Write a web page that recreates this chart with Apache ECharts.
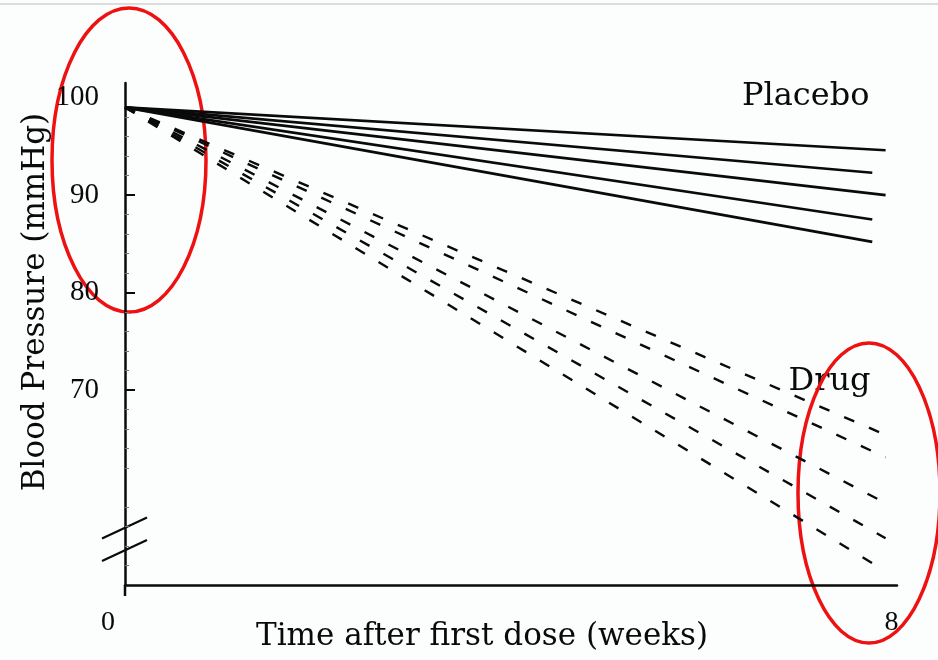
<!DOCTYPE html>
<html>
<head>
<meta charset="utf-8">
<script src="https://cdn.jsdelivr.net/npm/echarts@6/dist/echarts.min.js"></script>
<style>
  html, body { margin: 0; padding: 0; background: #fcfefe; }
  #chart { width: 938px; height: 660px; }
</style>
</head>
<body>
<div id="chart"></div>
<script>
// Weeks after first dose at which each line is drawn (start, end)
const weeksStart = 0;
const weeksEnd = 8;

// Blood pressure at baseline (mmHg)
const baseline = 99;

// Placebo group: end-of-study value for each line, with its end week
const placeboEndWeeks = [8, 7.86, 8, 7.86, 7.86];
const placeboEndValues = [94.6, 92.3, 90.0, 87.5, 85.2];

// Drug group: end-of-study value for each line
const drugEndValues = [65.4, 63.1, 58.4, 54.8, 51.4];

// Labelled ticks
const yTickLabels = [70, 80, 90, 100];
const xTickLabels = [0, 8];

const SERIF = '"DejaVu Serif", "Liberation Serif", serif';
const DIGITS = '"Liberation Serif", "DejaVu Serif", serif';

const series = [];
placeboEndValues.forEach((v, i) => {
  series.push({
    name: 'Placebo ' + (i + 1),
    type: 'line',
    data: [[weeksStart, baseline], [placeboEndWeeks[i], v]],
    symbol: 'none',
    lineStyle: { color: '#0a0a0a', width: 2.6, type: 'solid' },
    silent: true
  });
});
drugEndValues.forEach((v, i) => {
  series.push({
    name: 'Drug ' + (i + 1),
    type: 'line',
    data: [[weeksStart, baseline], [weeksEnd, v]],
    symbol: 'none',
    lineStyle: { color: '#0a0a0a', width: 2.4, type: [11, 16] },
    silent: true
  });
});

const chart = echarts.init(document.getElementById('chart'), null, { renderer: 'canvas' });

chart.setOption({
  animation: false,
  backgroundColor: '#fcfefe',
  grid: {
    left: 125, top: 83, width: 772, height: 502,
    containLabel: false, outerBoundsMode: 'none'
  },
  xAxis: {
    type: 'value',
    min: 0,
    max: 8.12,
    name: 'Time after first dose (weeks)',
    nameLocation: 'middle',
    nameMoveOverlap: false,
    nameGap: 36,
    nameTextStyle: {
      fontFamily: SERIF, fontSize: 31, color: '#0a0a0a',
      padding: [0, 58, 0, 0]
    },
    splitLine: { show: false },
    axisLine: { lineStyle: { color: '#0a0a0a', width: 2.5 } },
    axisTick: { show: false },
    axisLabel: {
      customValues: xTickLabels,
      margin: 24,
      formatter: v => (v === 0 ? '{l|0}' : '{r|8}'),
      rich: {
        l: { fontFamily: DIGITS, fontSize: 28, color: '#0a0a0a', padding: [0, 34, 0, 0] },
        r: { fontFamily: DIGITS, fontSize: 28, color: '#0a0a0a', padding: [0, 0, 0, 12] }
      }
    }
  },
  yAxis: {
    type: 'value',
    min: 50,
    max: 101.5,
    name: 'Blood Pressure (mmHg)',
    nameLocation: 'middle',
    nameMoveOverlap: false,
    nameGap: 74,
    nameRotate: 90,
    nameTextStyle: {
      fontFamily: SERIF, fontSize: 31, color: '#0a0a0a',
      padding: [0, 0, 0, 64]
    },
    splitLine: { show: false },
    axisLine: { lineStyle: { color: '#0a0a0a', width: 2.5 } },
    axisTick: {
      inside: true,
      length: 10,
      customValues: [70, 80, 90],
      lineStyle: { color: '#0a0a0a', width: 2 }
    },
    minorTick: {
      show: true,
      splitNumber: 5,
      length: 4,
      lineStyle: { color: '#777', width: 1 }
    },
    axisLabel: {
      customValues: yTickLabels,
      margin: 26,
      fontFamily: DIGITS,
      fontSize: 29,
      color: '#0a0a0a'
    }
  },
  series: series
});

// Group labels beside the line bundles, break symbol on the y axis,
// and the two red highlight rings.
function placeDecorations() {
  const p = (x, y) => chart.convertToPixel({ gridIndex: 0 }, [x, y]);
  const brk1 = p(0, 55.9);
  const brk2 = p(0, 53.6);
  const origin = p(0, 50);
  const placeboAnchor = p(7.16, 100.1);
  const drugAnchor = p(7.41, 70.9);
  chart.setOption({
    graphic: [
      {
        type: 'line', silent: true,
        shape: { x1: 0, y1: 4, x2: 938, y2: 4 },
        style: { stroke: '#dcdcdc', lineWidth: 2 }
      },
      {
        type: 'line', silent: true,
        shape: { x1: origin[0], y1: origin[1], x2: origin[0], y2: origin[1] + 11 },
        style: { stroke: '#0a0a0a', lineWidth: 2.5 }
      },
      {
        type: 'line', silent: true,
        shape: { x1: brk1[0] - 23, y1: brk1[1] + 11, x2: brk1[0] + 22, y2: brk1[1] - 10 },
        style: { stroke: '#0a0a0a', lineWidth: 2.2 }
      },
      {
        type: 'line', silent: true,
        shape: { x1: brk2[0] - 23, y1: brk2[1] + 11, x2: brk2[0] + 22, y2: brk2[1] - 10 },
        style: { stroke: '#0a0a0a', lineWidth: 2.2 }
      },
      {
        type: 'text', silent: true,
        x: placeboAnchor[0], y: placeboAnchor[1],
        style: {
          text: 'Placebo', fontFamily: SERIF, fontSize: 32, fill: '#0a0a0a',
          align: 'center', verticalAlign: 'middle'
        }
      },
      {
        type: 'text', silent: true,
        x: drugAnchor[0], y: drugAnchor[1],
        style: {
          text: 'Drug', fontFamily: SERIF, fontSize: 32, fill: '#0a0a0a',
          align: 'center', verticalAlign: 'middle'
        }
      },
      {
        type: 'ellipse', silent: true,
        shape: { cx: 129, cy: 160, rx: 77, ry: 152 },
        style: { stroke: '#ee1111', lineWidth: 3.5, fill: null }
      },
      {
        type: 'ellipse', silent: true,
        shape: { cx: 869, cy: 493, rx: 71, ry: 150 },
        style: { stroke: '#ee1111', lineWidth: 3.5, fill: null }
      }
    ]
  });
}
placeDecorations();
</script>
</body>
</html>
